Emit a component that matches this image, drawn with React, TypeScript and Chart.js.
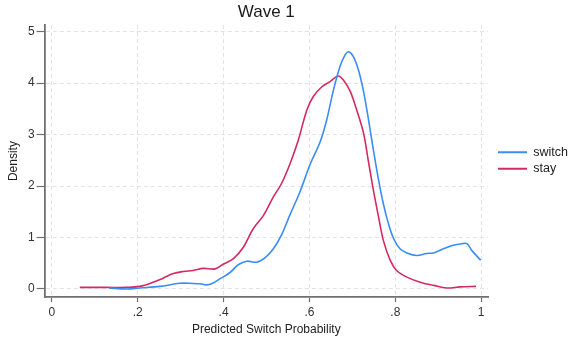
import React, { useEffect, useRef } from "react";
import { Chart, registerables } from "chart.js";

Chart.register(...registerables);

const titleText = "Wave 1";
const xTitle = "Predicted Switch Probability";
const yTitle = "Density";
const seriesNames = ["switch", "stay"];
const xTickValues = [0, 0.2, 0.4, 0.6, 0.8, 1];
const xTickLabels = ["0", ".2", ".4", ".6", ".8", "1"];
const yTickValues = [0, 1, 2, 3, 4, 5];
const yTickLabels = ["0", "1", "2", "3", "4", "5"];

const switchX = [0.133, 0.174, 0.205, 0.252, 0.298, 0.329, 0.345, 0.36, 0.372, 0.392, 0.415, 0.434, 0.454, 0.477, 0.497, 0.516, 0.535, 0.555, 0.578, 0.601, 0.625, 0.64, 0.656, 0.671, 0.683, 0.691, 0.702, 0.714, 0.726, 0.737, 0.749, 0.761, 0.772, 0.784, 0.796, 0.811, 0.827, 0.85, 0.873, 0.889, 0.912, 0.935, 0.955, 0.967, 0.978, 0.999];
const switchY = [0.02, 0.0, 0.02, 0.05, 0.11, 0.107, 0.1, 0.08, 0.1, 0.2, 0.32, 0.47, 0.54, 0.52, 0.61, 0.78, 1.05, 1.45, 1.89, 2.41, 2.86, 3.28, 3.87, 4.32, 4.55, 4.61, 4.52, 4.26, 3.84, 3.32, 2.7, 2.12, 1.66, 1.27, 0.98, 0.78, 0.7, 0.65, 0.69, 0.7, 0.78, 0.85, 0.88, 0.88, 0.75, 0.56];

const stayX = [0.065, 0.128, 0.174, 0.205, 0.236, 0.259, 0.283, 0.306, 0.329, 0.353, 0.38, 0.399, 0.423, 0.446, 0.469, 0.493, 0.516, 0.535, 0.555, 0.574, 0.594, 0.609, 0.629, 0.648, 0.667, 0.679, 0.695, 0.71, 0.726, 0.737, 0.749, 0.761, 0.772, 0.788, 0.803, 0.827, 0.858, 0.889, 0.92, 0.951, 0.988];
const stayY = [0.03, 0.03, 0.03, 0.05, 0.13, 0.21, 0.3, 0.34, 0.36, 0.4, 0.39, 0.48, 0.59, 0.81, 1.17, 1.43, 1.79, 2.05, 2.44, 2.89, 3.48, 3.74, 3.93, 4.03, 4.14, 4.06, 3.84, 3.48, 3.03, 2.5, 1.92, 1.4, 0.95, 0.56, 0.36, 0.23, 0.13, 0.07, 0.02, 0.04, 0.05];

const colors = ["#3a8df6", "#d42a62"];
const FONT = "'Liberation Sans', Arial, sans-serif";

const shiftLegend = {
  id: "shiftLegend",
  afterLayout(chart: any) {
    const l = chart.legend;
    if (l) {
      l.left += 6;
      l.right += 6;
      l.top -= 8;
      l.bottom -= 8;
    }
  },
};

export default function App() {
  const ref = useRef<HTMLCanvasElement | null>(null);
  useEffect(() => {
    document.body.style.margin = "0";
    const ctx = ref.current!;
    const mk = (xs: number[], ys: number[]) => xs.map((x, i) => ({ x, y: ys[i] }));
    const chart = new Chart(ctx, {
      type: "line",
      data: {
        datasets: [
          {
            label: seriesNames[0],
            data: mk(switchX, switchY),
            borderColor: colors[0],
            backgroundColor: colors[0],
            borderWidth: 1.6,
            pointRadius: 0,
            tension: 0.35,
          },
          {
            label: seriesNames[1],
            data: mk(stayX, stayY),
            borderColor: colors[1],
            backgroundColor: colors[1],
            borderWidth: 1.6,
            pointRadius: 0,
            tension: 0.35,
          },
        ],
      },
      plugins: [shiftLegend],
      options: {
        responsive: false,
        animation: false,
        layout: { padding: { left: 6.5, right: -3, top: 0, bottom: 4 } },
        plugins: {
          title: {
            display: true,
            fullSize: false,
            text: titleText,
            color: "#1a1a1a",
            font: { family: FONT, size: 17, weight: "normal" },
            padding: { top: 2, bottom: 2.6 },
          },
          legend: {
            position: "right",
            labels: {
              font: { family: FONT, size: 12.5 },
              color: "#222",
              boxWidth: 29,
              boxHeight: 2,
              padding: 4,
              generateLabels: () =>
                seriesNames.map((n, i) => ({
                  text: n,
                  fillStyle: colors[i],
                  strokeStyle: colors[i],
                  lineWidth: 0,
                  hidden: false,
                  datasetIndex: i,
                  fontColor: "#222",
                })),
            },
          },
          tooltip: { enabled: false },
        },
        scales: {
          x: {
            type: "linear",
            min: -0.017,
            max: 1.016,
            afterBuildTicks: (s: any) => {
              s.ticks = xTickValues.map((v) => ({ value: v }));
            },
            ticks: {
              autoSkip: false,
              maxRotation: 0,
              color: "#333",
              font: { family: FONT, size: 12 },
              padding: 3,
              callback: (v: any) => {
                const i = xTickValues.findIndex((t) => Math.abs(t - Number(v)) < 1e-9);
                return i >= 0 ? xTickLabels[i] : "";
              },
            },
            grid: {
              color: "#e3e3e3",
              lineWidth: 1,
              tickColor: "#707070",
              tickLength: 5,
              tickWidth: 1.2,
            },
            border: { display: true, color: "#707070", width: 1.8, dash: [4, 3] },
            title: {
              display: true,
              text: xTitle,
              color: "#222",
              font: { family: FONT, size: 12 },
              padding: { top: 0, bottom: 0 },
            },
          },
          y: {
            type: "linear",
            min: -0.16,
            max: 5.13,
            afterBuildTicks: (s: any) => {
              s.ticks = yTickValues.map((v) => ({ value: v }));
            },
            ticks: {
              autoSkip: false,
              color: "#333",
              font: { family: FONT, size: 12 },
              padding: 2,
              callback: (v: any) => {
                const i = yTickValues.findIndex((t) => Math.abs(t - Number(v)) < 1e-9);
                return i >= 0 ? yTickLabels[i] : "";
              },
            },
            grid: {
              color: "#e3e3e3",
              lineWidth: 1,
              tickColor: "#707070",
              tickLength: 8,
              tickWidth: 1.2,
            },
            border: { display: true, color: "#707070", width: 1.8, dash: [4, 3] },
            title: {
              display: true,
              text: yTitle,
              color: "#222",
              font: { family: FONT, size: 12 },
              padding: { top: 0, bottom: 5 },
            },
          },
        },
      },
    });
    return () => chart.destroy();
  }, []);
  return (
    <div style={{ width: 569, height: 341 }}>
      <canvas ref={ref} width={569} height={341} />
    </div>
  );
}
